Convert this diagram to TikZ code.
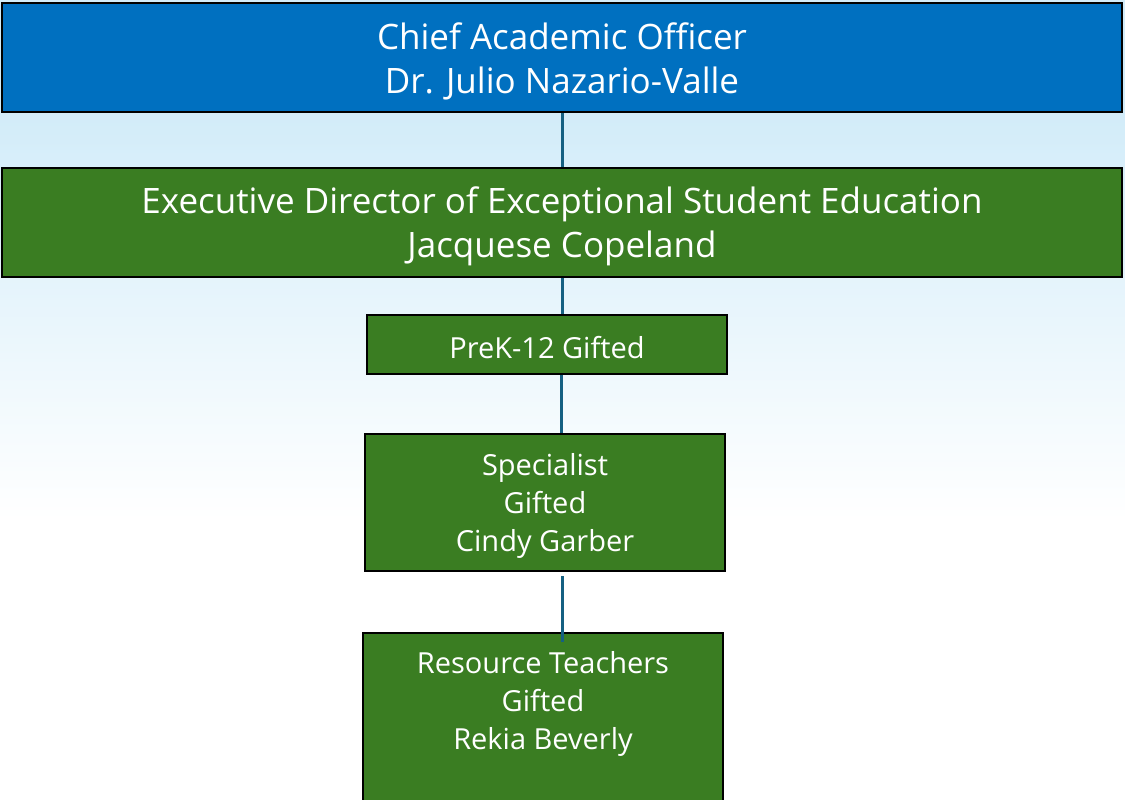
\documentclass[tikz,border=0pt]{standalone}
\usepackage{fontspec}
\setmainfont{Open Sans}
\usepackage{xcolor}
\usetikzlibrary{calc, positioning}

\definecolor{chiefblue}{HTML}{0070C0}
\definecolor{unitgreen}{HTML}{3A7D22}
\definecolor{linkblue}{HTML}{156082}
\definecolor{skyblue}{HTML}{D2ECF9}

\newcommand{\topgap}{\rule{0pt}{1em}}

\tikzset{
  orgbox/.style={rectangle, draw=black, line width=2pt, text=white, align=center, inner sep=0pt},
  bigbox/.style={orgbox, minimum width=1120pt, minimum height=109pt, font=\fontsize{35}{44}\selectfont},
  smallbox/.style={orgbox, minimum width=360pt, fill=unitgreen, font=\fontsize{29}{38}\selectfont},
  link/.style={-, draw=linkblue, line width=3pt}
}

\begin{document}
\begin{tikzpicture}
              [x=1pt, y=-1pt]
              % background %
              \useasboundingbox (0,0) rectangle (1125,800);
              \fill[skyblue] (0,0) rectangle (1125,112);
              \shade[top color=skyblue, bottom color=white] (0,112) rectangle (1125,520);
              \fill[white] (0,520) rectangle (1125,800);

              % nodes %
              \node[bigbox, fill=chiefblue] (cao) at (562,57.5) {\topgap Chief Academic Officer\\Dr. Julio Nazario-Valle};
              \node[bigbox, fill=unitgreen] (exec) at (562,222.5) {\topgap Executive Director of Exceptional Student Education\\Jacquese Copeland};
              \node[smallbox, minimum height=59pt] (prek) at (547,344) {\topgap PreK-12 Gifted};
              \node[smallbox, minimum height=137pt] (spec) at (545,502.5) {\topgap Specialist\\Gifted\\Cindy Garber};
              \node[smallbox, anchor=north, text depth=100pt, inner ysep=11pt] (res) at (543,632) {\topgap Resource Teachers\\Gifted\\Rekia Beverly};

              % edges %
              \draw[link] (cao.south -| 562,0) -- (exec.north -| 562,0);
              \draw[link] (exec.south -| 562,0) -- (prek.north -| 562,0);
              \draw[link] (prek.south -| 561,0) -- (spec.north -| 561,0);
              \draw[link] ($(spec.south -| 562,0)+(0,4)$) -- ($(res.north -| 562,0)+(0,10)$);
            \end{tikzpicture}
\end{document}
